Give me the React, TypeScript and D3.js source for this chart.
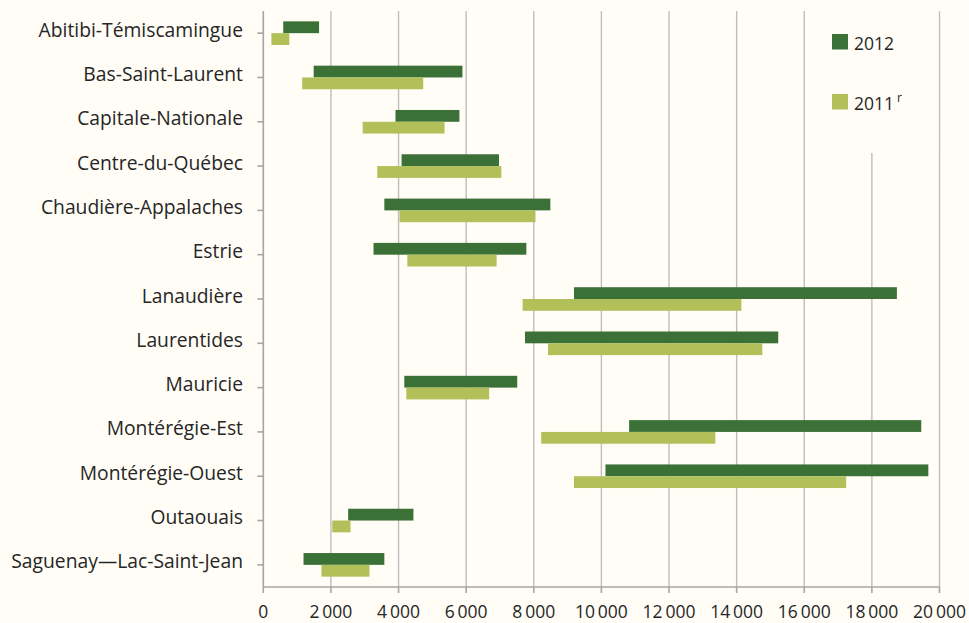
import React from 'react';
import * as d3 from 'd3';

const regions = [
  'Abitibi-Témiscamingue',
  'Bas-Saint-Laurent',
  'Capitale-Nationale',
  'Centre-du-Québec',
  'Chaudière-Appalaches',
  'Estrie',
  'Lanaudière',
  'Laurentides',
  'Mauricie',
  'Montérégie-Est',
  'Montérégie-Ouest',
  'Outaouais',
  'Saguenay\u2014Lac-Saint-Jean',
];

// [start, end] of each range bar
const range2012: [number, number][] = [
  [590, 1650], [1490, 5890], [3910, 5800], [4090, 6970], [3580, 8490],
  [3260, 7780], [9190, 18740], [7740, 15230], [4170, 7510], [10820, 19460],
  [10120, 19670], [2510, 4440], [1190, 3580],
];
const range2011: [number, number][] = [
  [240, 770], [1150, 4730], [2940, 5360], [3370, 7040], [4030, 8050],
  [4260, 6900], [7670, 14140], [8420, 14760], [4230, 6680], [8220, 13370],
  [9190, 17240], [2040, 2580], [1720, 3140],
];

const xTicks = [0, 2000, 4000, 6000, 8000, 10000, 12000, 14000, 16000, 18000, 20000];
const legendLabels = ['2012', '2011'];

const W = 969;
const H = 623;
const BG = '#fffdf6';
const DARK = '#3b7037';
const LIGHT = '#b2c05a';
const AXIS = '#a6a6a6';
const GRID = '#bdbdbd';
const TEXT = '#262626';
const FONT = "'Open Sans', 'Noto Sans', sans-serif";

const fmt = (v: number) => d3.format(',')(v).replace(/,/g, '\u2009');

export default function App() {
  const x = d3.scaleLinear().domain([0, 20000]).range([263.3, 939.5]);
  const y = d3.scaleBand<string>().domain(regions).range([11, 587]);
  const barH = 11.8;

  return (
    <svg width={W} height={H} style={{ display: 'block', position: 'absolute', left: 0, top: 0 }}
      fontFamily={FONT}>
      <rect x={0} y={0} width={W} height={H} fill={BG} />

      {/* gridlines */}
      {xTicks.slice(1).map(t => (
        <line key={t} x1={x(t)} x2={x(t)} y1={11} y2={587} stroke={GRID} strokeWidth={1.4} />
      ))}

      {/* legend box covers gridline */}
      <rect x={x(16000) + 1.2} y={11} width={x(20000) - x(16000) - 2.4} height={142} fill={BG} />
      <rect x={832} y={34} width={16} height={15.5} fill={DARK} />
      <text x={854} y={49.5} fontSize={17.5} fill={TEXT}>{legendLabels[0]}</text>
      <rect x={832} y={94} width={16} height={15.5} fill={LIGHT} />
      <text x={854} y={110} fontSize={17.5} fill={TEXT}>
        {legendLabels[1]}
        <tspan dx={3} dy={-8} fontSize={12}>r</tspan>
      </text>

      {/* bars */}
      {regions.map((r, i) => {
        const c = (y(r) as number) + y.bandwidth() / 2;
        const a = range2012[i];
        const b = range2011[i];
        return (
          <g key={r}>
            <rect x={x(a[0])} y={c - barH} width={x(a[1]) - x(a[0])} height={barH} fill={DARK} />
            <rect x={x(b[0])} y={c} width={x(b[1]) - x(b[0])} height={barH} fill={LIGHT} />
          </g>
        );
      })}

      {/* y axis */}
      <line x1={x(0)} x2={x(0)} y1={11} y2={587} stroke={AXIS} strokeWidth={1.6} />
      {regions.map(r => {
        const c = (y(r) as number) + y.bandwidth() / 2;
        return (
          <g key={r}>
            <line x1={x(0) - 6} x2={x(0)} y1={c} y2={c} stroke={AXIS} strokeWidth={1.6} />
            <text x={243} y={c + 3.5} textAnchor="end" fontSize={19.3} fill={TEXT}>{r}</text>
          </g>
        );
      })}

      {/* x axis */}
      <line x1={x(0)} x2={x(20000)} y1={587} y2={587} stroke={AXIS} strokeWidth={1.6} />
      {xTicks.map(t => (
        <g key={t}>
          <line x1={x(t)} x2={x(t)} y1={587} y2={593} stroke={AXIS} strokeWidth={1.6} />
          <text x={x(t)} y={618} textAnchor="middle" fontSize={17.5} fill={TEXT}>{fmt(t)}</text>
        </g>
      ))}
    </svg>
  );
}
